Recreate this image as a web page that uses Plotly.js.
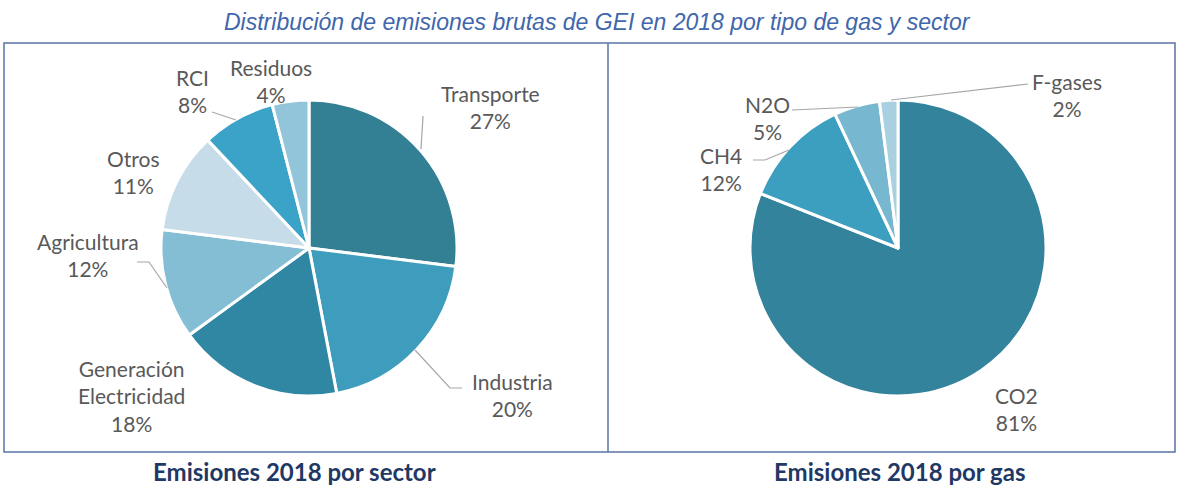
<!DOCTYPE html>
<html>
<head>
<meta charset="utf-8">
<script src="https://cdn.plot.ly/plotly-3.0.1.min.js"></script>
<style>html,body{margin:0;padding:0;background:#fff;}#chart{width:1177px;height:487px;}</style>
</head>
<body>
<div id="chart"></div>
<script>
// ---- data ----
const sectorLabels = ["Transporte", "Industria", "Generación<br>Electricidad", "Agricultura", "Otros", "RCI", "Residuos"];
const sectorValues = [27, 20, 18, 12, 11, 8, 4];
const sectorColors = ["#337f94", "#3e9dbd", "#2f87a3", "#84bed4", "#c6dce8", "#3ba3c8", "#93c5da"];

const gasLabels = ["CO2", "CH4", "N2O", "F-gases"];
const gasValues = [81, 12, 5, 2];
const gasColors = ["#32839b", "#3c9fc0", "#78b7d0", "#a9d0e1"];

const chartTitle = "Distribución de emisiones brutas de GEI en 2018 por tipo de gas y sector";
const sectorCaption = "Emisiones 2018 por sector";
const gasCaption = "Emisiones 2018 por gas";

// ---- layout helpers (pixel -> paper) ----
const W = 1177, H = 487;
const px = x => x / W;
const py = y => 1 - y / H;

// label centres (pixels) for each slice, in data order
const sectorLabelPos = [[490, 107], [512, 395], [131, 396], [88, 255], [133, 172], [192, 91], [271, 81]];
const gasLabelPos = [[1016, 409], [721, 169], [767, 118], [1067, 95]];

// leader lines (pixels) — label side to slice edge
const sectorLeaders = [
  [[423, 116], [421, 149]],
  [[462, 388], [450, 388], [415, 350]],
  null,
  [[137, 262], [149, 262], [167, 288]],
  null,
  [[212, 112], [236, 120]],
  null
];
const gasLeaders = [
  null,
  [[753, 160], [765, 160], [789, 150]],
  [[792, 110], [858, 107]],
  [[1028, 84], [891, 100]]
];

const labelFont = {family: "Lato, 'Open Sans', sans-serif", size: 21, color: "#595959"};

const annotations = [];
function addLabels(labels, values, pos) {
  labels.forEach((l, i) => {
    annotations.push({
      xref: "paper", yref: "paper",
      x: px(pos[i][0]), y: py(pos[i][1]),
      xanchor: "center", yanchor: "middle",
      text: l + "<br>" + values[i] + "%",
      showarrow: false, font: labelFont, align: "center"
    });
  });
}
addLabels(sectorLabels, sectorValues, sectorLabelPos);
addLabels(gasLabels, gasValues, gasLabelPos);

annotations.push({
  xref: "paper", yref: "paper", x: px(597), y: py(22), xanchor: "center", yanchor: "middle",
  text: "<i>" + chartTitle + "</i>", showarrow: false,
  font: {family: "'Liberation Sans Narrow', 'Liberation Sans', Arial, sans-serif", size: 23, color: "#4066ac"}
});
annotations.push({
  xref: "paper", yref: "paper", x: px(294), y: py(471), xanchor: "center", yanchor: "middle",
  text: "<b>" + sectorCaption + "</b>", showarrow: false,
  font: {family: "Lato, sans-serif", size: 24, color: "#1f3864"}
});
annotations.push({
  xref: "paper", yref: "paper", x: px(900), y: py(471), xanchor: "center", yanchor: "middle",
  text: "<b>" + gasCaption + "</b>", showarrow: false,
  font: {family: "Lato, sans-serif", size: 24, color: "#1f3864"}
});

const shapes = [];
const boxColor = "#5a74a8";
shapes.push({type: "rect", xref: "paper", yref: "paper", x0: px(4), x1: px(1175), y0: py(452), y1: py(43),
  line: {color: boxColor, width: 1.5}, layer: "below"});
shapes.push({type: "line", xref: "paper", yref: "paper", x0: px(608), x1: px(608), y0: py(452), y1: py(43),
  line: {color: boxColor, width: 1.5}, layer: "below"});

function addLeaders(list) {
  list.forEach(pts => {
    if (!pts) return;
    const d = pts.map((p, k) => (k ? "L" : "M") + px(p[0]) + "," + py(p[1])).join(" ");
    shapes.push({type: "path", xref: "paper", yref: "paper", path: d,
      line: {color: "#a6a6a6", width: 1.2}, layer: "above"});
  });
}
addLeaders(sectorLeaders);
addLeaders(gasLeaders);

const traces = [
  {
    type: "pie", labels: sectorLabels, values: sectorValues, sort: false,
    direction: "clockwise", rotation: 0, textinfo: "none", hoverinfo: "none",
    marker: {colors: sectorColors, line: {color: "#ffffff", width: 3}},
    domain: {x: [px(161), px(457)], y: [py(396), py(100)]},
    showlegend: false
  },
  {
    type: "pie", labels: gasLabels, values: gasValues, sort: false,
    direction: "clockwise", rotation: 0, textinfo: "none", hoverinfo: "none",
    marker: {colors: gasColors, line: {color: "#ffffff", width: 3}},
    domain: {x: [px(750), px(1046)], y: [py(396), py(100)]},
    showlegend: false
  }
];

const layout = {
  width: W, height: H,
  margin: {l: 0, r: 0, t: 0, b: 0},
  paper_bgcolor: "#ffffff", plot_bgcolor: "#ffffff",
  showlegend: false,
  annotations: annotations,
  shapes: shapes
};

Plotly.newPlot("chart", traces, layout, {staticPlot: true, displayModeBar: false});
</script>
</body>
</html>
